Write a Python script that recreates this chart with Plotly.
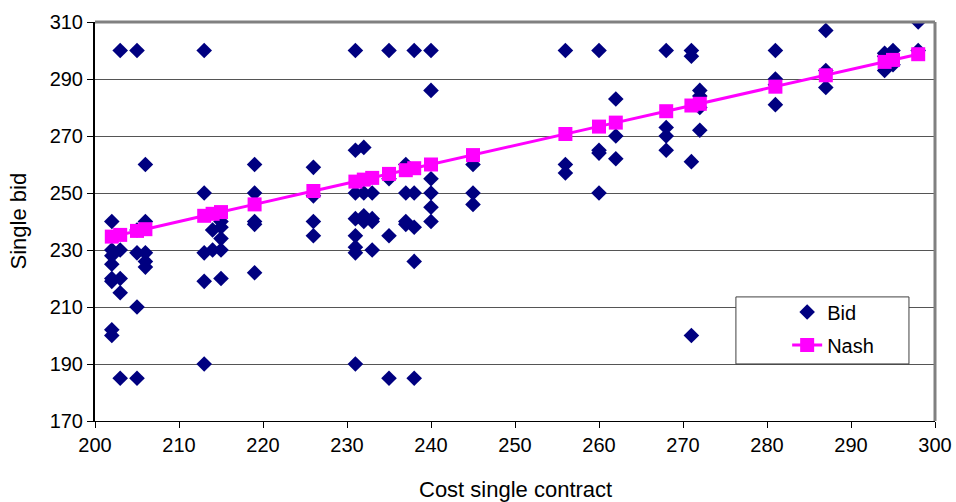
import plotly.graph_objects as go

bid_cost = [202, 202, 202, 202, 202, 202, 202, 202,
            203, 203, 203, 203, 203,
            205, 205, 205, 205, 205,
            206, 206, 206, 206, 206,
            213, 213, 213, 213, 213,
            214, 214,
            215, 215, 215, 215, 215,
            219, 219, 219, 219, 219,
            226, 226, 226, 226,
            231, 231, 231, 231, 231, 231, 231, 231,
            232, 232, 232, 232,
            233, 233, 233, 233,
            235, 235, 235, 235,
            237, 237, 237, 237,
            238, 238, 238, 238, 238,
            240, 240, 240, 240, 240, 240,
            245, 245, 245,
            256, 256, 256,
            260, 260, 260, 260,
            262, 262, 262,
            268, 268, 268, 268,
            271, 271, 271, 271,
            272, 272, 272, 272,
            281, 281, 281, 281,
            287, 287, 287,
            294, 294, 294,
            295, 295,
            298, 298]
bid_value = [240, 230, 228, 225, 220, 219, 202, 200,
             300, 230, 220, 215, 185,
             300, 237, 229, 210, 185,
             260, 240, 229, 226, 224,
             300, 250, 229, 219, 190,
             237, 230,
             240, 238, 234, 230, 220,
             260, 250, 240, 239, 222,
             259, 249, 240, 235,
             300, 265, 250, 241, 235, 231, 229, 190,
             266, 250, 242, 240,
             250, 241, 240, 230,
             300, 255, 235, 185,
             260, 250, 240, 239,
             300, 250, 238, 226, 185,
             300, 286, 255, 250, 245, 240,
             260, 250, 246,
             300, 260, 257,
             300, 265, 264, 250,
             283, 270, 262,
             300, 273, 270, 265,
             300, 298, 261, 200,
             286, 284, 280, 272,
             300, 290, 288, 281,
             307, 293, 287,
             299, 298, 293,
             300, 295,
             310, 300]

nash_cost = [202, 203, 205, 206, 213, 214, 215, 219, 226, 231, 232, 233, 235, 237,
             238, 240, 245, 256, 260, 262, 268, 271, 272, 281, 287, 294, 295, 298]
nash_value = [234.7, 235.3, 236.7, 237.3, 242.0, 242.7, 243.3, 246.0, 250.7, 254.0,
              254.7, 255.3, 256.7, 258.0, 258.7, 260.0, 263.3, 270.7, 273.3, 274.7,
              278.7, 280.7, 281.3, 287.3, 291.3, 296.0, 296.7, 298.7]

x_ticks = list(range(200, 301, 10))
y_ticks = list(range(170, 311, 20))

FAM = "Liberation Sans, Arial, sans-serif"

fig = go.Figure()
fig.add_trace(go.Scatter(
    x=bid_cost, y=bid_value, mode="markers", name="Bid", legendgroup="bid",
    marker=dict(symbol="diamond", size=12, color="#000080",
                line=dict(width=0)),
))
fig.add_trace(go.Scatter(
    x=nash_cost, y=nash_value, mode="lines+markers", name="Nash", legendgroup="nash",
    line=dict(color="#FF00FF", width=3),
    marker=dict(symbol="square", size=14, color="#FF00FF"),
))

fig.update_layout(
    width=956, height=502,
    margin=dict(l=95, r=21, t=22, b=81),
    paper_bgcolor="white", plot_bgcolor="white",
    font=dict(family=FAM, size=20, color="#000000"),
    showlegend=True,
    legend=dict(
        x=0.824, y=0.322, xanchor="left", yanchor="top",
        bgcolor="rgba(0,0,0,0)", borderwidth=0,
        font=dict(family=FAM, size=20),
        tracegroupgap=4,
        itemsizing="trace",
    ),
    xaxis=dict(
        range=[200, 300], tickvals=x_ticks, ticks="outside", ticklen=6,
        tickcolor="black", showgrid=False, zeroline=False, automargin=False,
        showline=True, linecolor="black", linewidth=1, mirror=False,
        tickfont=dict(size=20),
    ),
    yaxis=dict(
        range=[170, 310], tickvals=y_ticks, ticks="outside", ticklen=6,
        tickcolor="black", showgrid=True, gridcolor="#555555", gridwidth=1,
        zeroline=False, showline=True, linecolor="black", linewidth=2,
        automargin=False, tickfont=dict(size=20),
    ),
    annotations=[
        dict(text="Cost single contract", xref="paper", yref="paper",
             x=0.5, y=-68 / 399, xanchor="center", yanchor="middle",
             showarrow=False, font=dict(family=FAM, size=22)),
        dict(text="Single bid", xref="paper", yref="paper",
             x=-77 / 840, y=0.5, xanchor="center", yanchor="middle",
             textangle=-90, showarrow=False, font=dict(family=FAM, size=22)),
    ],
    shapes=[
        dict(type="line", xref="paper", yref="paper", x0=0, x1=1, y0=1, y1=1,
             line=dict(color="#808080", width=3)),
        dict(type="line", xref="paper", yref="paper", x0=1, x1=1, y0=0, y1=1,
             line=dict(color="#808080", width=3)),
        dict(type="rect", xref="paper", yref="paper", x0=0.763, x1=0.969,
             y0=0.143, y1=0.311, fillcolor="white",
             line=dict(color="#404040", width=1), layer="above"),
    ],
)

fig.write_html("out.html")
